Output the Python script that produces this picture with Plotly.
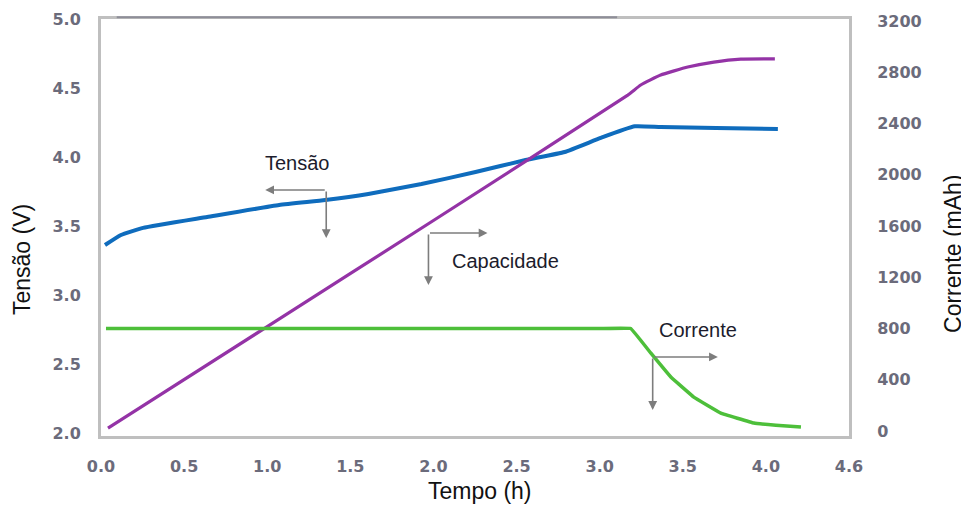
import plotly.graph_objects as go

# ---- data ----
volt_t = [0.024, 0.120, 0.253, 0.639, 1.072, 1.349, 1.608, 1.928, 2.253, 2.554, 2.789, 3.006, 3.211, 3.367, 3.700, 4.072]
volt_v = [3.362, 3.435, 3.486, 3.565, 3.652, 3.688, 3.732, 3.804, 3.891, 3.978, 4.036, 4.138, 4.222, 4.217, 4.210, 4.203]

cap_t = [0.042, 1.000, 2.000, 3.169, 3.247, 3.367, 3.530, 3.687, 3.849, 4.054]
cap_mah = [23, 815, 1643, 2622, 2701, 2779, 2841, 2880, 2903, 2905]

cur_t = [0.030, 1.000, 2.000, 3.000, 3.187, 3.307, 3.428, 3.566, 3.729, 3.928, 4.060, 4.211]
cur_ma = [800, 800, 800, 800, 800, 609, 421, 265, 140, 62, 45, 31]

x_tickvals = [0, 0.5, 1.0, 1.5, 2.0, 2.5, 3.0, 3.5, 4.0, 4.5]
x_ticktext = ["0.0", "0.5", "1.0", "1.5", "2.0", "2.5", "3.0", "3.5", "4.0", "4.6"]
yl_tickvals = [2.0, 2.5, 3.0, 3.5, 4.0, 4.5, 5.0]
yl_ticktext = ["2.0", "2.5", "3.0", "3.5", "4.0", "4.5", "5.0"]
yr_tickvals = [0, 400, 800, 1200, 1600, 2000, 2400, 2800, 3200]

# ---- styles ----
BLUE = "#0f6cbd"
PURPLE = "#9433a6"
GREEN = "#4dbf3a"
TICK = dict(family="DejaVu Sans", size=16, color="#6b6b7b", weight="bold")
TXT = "Liberation Sans"
ARROW = "#7d7d7d"
FRAME = "#bfbfbf"

fig = go.Figure()
fig.add_trace(go.Scatter(x=volt_t, y=volt_v, mode="lines", yaxis="y",
                         line=dict(color=BLUE, width=4, shape="spline", smoothing=0.4),
                         showlegend=False, hoverinfo="skip"))
fig.add_trace(go.Scatter(x=cap_t, y=cap_mah, mode="lines", yaxis="y2",
                         line=dict(color=PURPLE, width=3.2, shape="spline", smoothing=0.4),
                         showlegend=False, hoverinfo="skip"))
fig.add_trace(go.Scatter(x=cur_t, y=cur_ma, mode="lines", yaxis="y2",
                         line=dict(color=GREEN, width=3.5, shape="spline", smoothing=0.15),
                         showlegend=False, hoverinfo="skip"))

ann = []
def arrow(hx, hy, tx, ty):
    ann.append(dict(x=hx, y=hy, ax=tx, ay=ty, xref="x", yref="y", axref="x", ayref="y",
                    text="", showarrow=True, arrowhead=2, arrowsize=1.1, arrowwidth=1.6,
                    arrowcolor=ARROW, standoff=0, startstandoff=0))

# Tensão
arrow(0.988, 3.761, 1.355, 3.761)
arrow(1.355, 3.413, 1.355, 3.761)
# Capacidade
arrow(2.325, 3.449, 1.970, 3.449)
arrow(1.970, 3.072, 1.970, 3.449)
# Corrente
arrow(3.711, 2.551, 3.319, 2.551)
arrow(3.319, 2.167, 3.319, 2.551)

for txt, x, y in [("Tensão", 1.181, 3.957), ("Capacidade", 2.434, 3.246), ("Corrente", 3.590, 2.746)]:
    ann.append(dict(x=x, y=y, xref="x", yref="y", text=txt, showarrow=False,
                    font=dict(family=TXT, size=20, color="#1c1c2c"),
                    xanchor="center", yanchor="middle"))

# axis titles
ann.append(dict(x=0.507, y=-0.132, xref="paper", yref="paper", text="Tempo (h)", showarrow=False,
                font=dict(family=TXT, size=23, color="#111111"), xanchor="center", yanchor="middle"))
ann.append(dict(x=-0.1056, y=0.422, xref="paper", yref="paper", text="Tensão (V)", showarrow=False,
                textangle=-90, font=dict(family=TXT, size=23, color="#111111"),
                xanchor="center", yanchor="middle"))
ann.append(dict(x=1.139, y=0.4365, xref="paper", yref="paper", text="Corrente (mAh)", showarrow=False,
                textangle=-90, font=dict(family=TXT, size=23, color="#111111"),
                xanchor="center", yanchor="middle"))

fig.update_layout(
    width=961, height=499,
    margin=dict(l=93, r=120, t=11, b=71, autoexpand=False),
    paper_bgcolor="white", plot_bgcolor="white",
    annotations=ann,
    xaxis=dict(range=[0, 4.5], tickvals=x_tickvals, ticktext=x_ticktext, tickfont=TICK,
               showgrid=False, zeroline=False, showline=True, mirror=True, automargin=False,
               linecolor=FRAME, linewidth=3, ticks="outside", ticklen=14,
               tickcolor="rgba(0,0,0,0)"),
    yaxis=dict(range=[1.978, 5.0], tickvals=yl_tickvals, ticktext=yl_ticktext, tickfont=TICK,
               showgrid=False, zeroline=False, showline=True, mirror=True, automargin=False,
               linecolor=FRAME, linewidth=3, ticks="outside", ticklen=14,
               tickcolor="rgba(0,0,0,0)"),
    yaxis2=dict(range=[-39, 3216], tickvals=yr_tickvals, tickfont=TICK, overlaying="y", side="right",
                showgrid=False, zeroline=False, showline=False, automargin=False,
                ticks="outside", ticklen=24, tickcolor="rgba(0,0,0,0)"),
    shapes=[dict(type="line", xref="paper", yref="paper", x0=0.021, x1=0.69, y0=1.004, y1=1.004,
                 line=dict(color="#8e8e98", width=2))],
)

fig.write_html("out.html")
